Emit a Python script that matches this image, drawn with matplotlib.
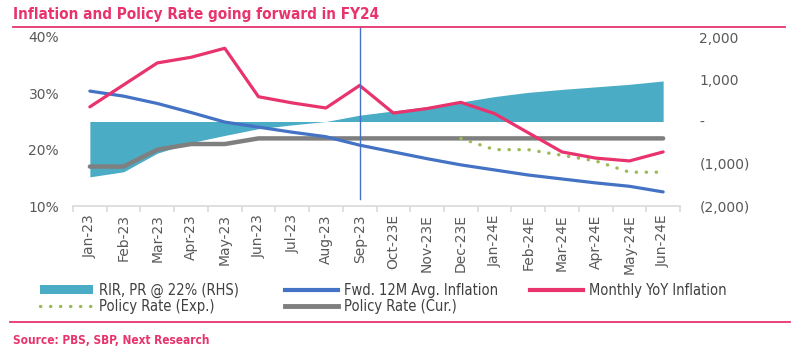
import matplotlib
matplotlib.use("Agg")
import matplotlib.pyplot as plt
from matplotlib.lines import Line2D
from matplotlib.patches import Patch
from matplotlib import font_manager as fm
import numpy as np

months = ["Jan-23", "Feb-23", "Mar-23", "Apr-23", "May-23", "Jun-23", "Jul-23",
          "Aug-23", "Sep-23", "Oct-23E", "Nov-23E", "Dec-23E", "Jan-24E",
          "Feb-24E", "Mar-24E", "Apr-24E", "May-24E", "Jun-24E"]
rir_bps = [-1310, -1190, -750, -500, -330, -170, -80, 0, 150, 250, 350, 460,
           590, 690, 760, 820, 880, 960]
fwd_infl = [30.4, 29.5, 28.2, 26.6, 24.9, 24.0, 23.1, 22.3, 20.8, 19.6, 18.4,
            17.3, 16.4, 15.5, 14.8, 14.1, 13.5, 12.5]
monthly_infl = [27.6, 31.5, 35.4, 36.4, 38.0, 29.4, 28.3, 27.4, 31.4, 26.5,
                27.3, 28.4, 26.4, 23.0, 19.6, 18.5, 18.0, 19.6]
pr_exp = [None] * 11 + [22, 20, 20, 19, 18, 16, 16]
pr_cur = [17, 17, 20, 21, 21, 22, 22, 22, 22, 22, 22, 22, 22, 22, 22, 22, 22, 22]
left_ticks = [10, 20, 30, 40]
right_ticks = [-2000, -1000, 0, 1000, 2000]
right_labels = ["(2,000)", "(1,000)", "-", "1,000", "2,000"]

TEAL = "#4BACC6"
BLUE = "#4472C4"
PINK = "#E8336D"
GRAY = "#7F7F7F"
GREEN = "#9BBB59"
TXT = "#595959"

W, H = 800, 354
fig = plt.figure(figsize=(W / 100, H / 100), dpi=100)
ax = fig.add_axes([73 / W, 1 - 206 / H, (680 - 73) / W, (206 - 37) / H])
ax2 = ax.twinx()
ax.set_zorder(ax2.get_zorder() + 1)
ax.patch.set_visible(False)

x = np.arange(len(months))
ax2.fill_between(x, 0, rir_bps, color=TEAL, linewidth=0)
ax2.set_ylim(-2000, 2000)
ax2.set_yticks(right_ticks)
ax2.set_yticklabels(right_labels)

ax.plot(x, pr_cur, color=GRAY, lw=3.2, solid_capstyle="round", zorder=3)
xe = [i for i, v in enumerate(pr_exp) if v is not None]
ye = [v for v in pr_exp if v is not None]
ax.plot(xe, ye, color=GREEN, lw=2.4, linestyle=(0, (0.1, 2.9)),
        dash_capstyle="round", zorder=3)
ax.plot(x, fwd_infl, color=BLUE, lw=2.3, solid_capstyle="round", zorder=4)
ax.plot(x, monthly_infl, color=PINK, lw=2.3, solid_capstyle="round", zorder=5)

ax.set_ylim(10, 40)
ax.set_xlim(-0.5, len(months) - 0.5)
ax.set_yticks(left_ticks)
ax.set_yticklabels([f"{t}%" for t in left_ticks])
ax.set_xticks(x)
ax.set_xticklabels(months, rotation=90)
ax.set_xticks(np.arange(-0.5, len(months), 1), minor=True)

for a in (ax, ax2):
    for s in a.spines.values():
        s.set_visible(False)
ax.spines["bottom"].set_visible(True)
ax.spines["bottom"].set_color("#D9D9D9")
ax.spines["bottom"].set_linewidth(1.2)

ax.tick_params(axis="y", length=0, pad=10, labelsize=10, labelcolor=TXT)
ax.tick_params(axis="x", which="major", length=0, pad=6, labelsize=10, labelcolor=TXT)
ax.tick_params(axis="x", which="minor", length=4, color="#D9D9D9", width=1.2)
ax2.tick_params(axis="y", length=0, pad=14, labelsize=10, labelcolor=TXT)

# vertical marker at Sep-23
ax.axvline(8, ymin=(206 - 199) / 169, ymax=(206 - 27) / 169, color=BLUE,
           lw=1.0, clip_on=False, zorder=6)

# title and rules
fig.text(13 / W, 1 - 14 / H, "Inflation and Policy Rate going forward in FY24",
         color=PINK, fontsize=11, fontweight="bold", fontstretch="condensed",
         family="DejaVu Sans", va="center", ha="left")
fig.add_artist(Line2D([13 / W, 785 / W], [1 - 27 / H, 1 - 27 / H], color=PINK, lw=1.3))
fig.add_artist(Line2D([10 / W, 790 / W], [1 - 322 / H, 1 - 322 / H], color=PINK, lw=1.3))
fig.text(13 / W, 1 - 340 / H, "Source: PBS, SBP, Next Research", color=PINK,
         fontsize=8.5, fontweight="bold", fontstretch="condensed",
         family="DejaVu Sans", va="center", ha="left")

# legends
lfont = fm.FontProperties(family="DejaVu Sans", stretch="condensed", size=10.5)
h_rir = Patch(facecolor=TEAL, edgecolor="none")
h_fwd = Line2D([], [], color=BLUE, lw=3)
h_mon = Line2D([], [], color=PINK, lw=3)
h_exp = Line2D([], [], color=GREEN, lw=2.4, linestyle=(0, (0.1, 2.9)), dash_capstyle="round")
h_cur = Line2D([], [], color=GRAY, lw=3.5)
cols = [([h_rir, h_exp], ["RIR, PR @ 22% (RHS)", "Policy Rate (Exp.)"], 40),
        ([h_fwd, h_cur], ["Fwd. 12M Avg. Inflation", "Policy Rate (Cur.)"], 285),
        ([h_mon], ["Monthly YoY Inflation"], 530)]
for hs, ls, xp in cols:
    lg = fig.legend(hs, ls, loc="upper left", bbox_to_anchor=(xp / W, 1 - 283 / H),
                    frameon=False, prop=lfont, handlelength=3.6, handleheight=0.6,
                    handletextpad=0.45, borderpad=0, borderaxespad=0,
                    labelspacing=0.05, labelcolor="#404040")

fig.savefig("out.png", dpi=100)
